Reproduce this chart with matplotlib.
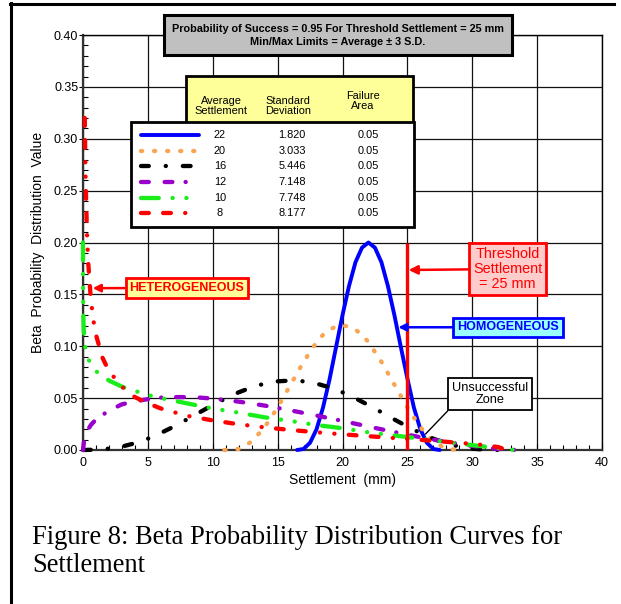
import matplotlib
matplotlib.use("Agg")
import matplotlib.pyplot as plt
from matplotlib.lines import Line2D
from matplotlib.patches import Rectangle
from matplotlib.ticker import MultipleLocator, FormatStrFormatter

plt.rcParams['font.family'] = ['Liberation Sans', 'DejaVu Sans']
plt.rcParams['lines.scale_dashes'] = False

W, H = 621, 604

# ---------------- data ----------------
avg_settlement = [22, 20, 16, 12, 10, 8]
std_dev = [1.820, 3.033, 5.446, 7.148, 7.748, 8.177]
failure_area = [0.05, 0.05, 0.05, 0.05, 0.05, 0.05]
threshold = 25
threshold_line_top = 0.20

x22 = [16.5, 17, 17.5, 18, 18.5, 19, 19.5, 20, 20.5, 21, 21.5, 22,
       22.5, 23, 23.5, 24, 24.5, 25, 25.5, 26, 26.5, 27, 27.5]
y22 = [0.000, 0.001, 0.007, 0.020, 0.041, 0.068, 0.099, 0.130, 0.158, 0.181, 0.195, 0.200,
       0.195, 0.181, 0.158, 0.130, 0.099, 0.069, 0.041, 0.020, 0.007, 0.001, 0.000]

x20 = [10.9, 12, 13, 14, 15, 16, 17, 18, 18.5, 19, 19.5, 20,
       20.5, 21, 21.5, 22, 23, 24, 25, 26, 27, 28, 29.1]
y20 = [0.000, 0.001, 0.008, 0.022, 0.041, 0.063, 0.085, 0.104, 0.111, 0.116, 0.119, 0.120,
       0.119, 0.116, 0.111, 0.104, 0.085, 0.063, 0.041, 0.022, 0.008, 0.001, 0.000]

x16 = [0, 1, 2, 3, 4, 5, 6, 7, 8, 9, 10, 11, 12, 13, 14, 15, 16,
       17, 18, 19, 20, 21, 22, 23, 24, 25, 26, 27, 28, 29, 30, 31, 32.3]
y16 = [0.000, 0.0003, 0.0013, 0.0033, 0.0065, 0.0109, 0.0164, 0.0226, 0.0294, 0.0364,
       0.0433, 0.0498, 0.0556, 0.0604, 0.0640, 0.0662, 0.0669, 0.0662, 0.0640, 0.0604,
       0.0556, 0.0498, 0.0433, 0.0364, 0.0294, 0.0226, 0.0164, 0.0109, 0.0065, 0.0033,
       0.0013, 0.0003, 0.000]

x12 = [0, 0.1, 0.3, 0.6, 1, 2, 3, 4, 5, 6, 7, 8, 9, 10, 11, 12, 13, 14,
       16, 18, 20, 22, 24, 26, 28, 30, 32, 33.4]
y12 = [0.000, 0.011, 0.018, 0.024, 0.0295, 0.038, 0.044, 0.047, 0.049, 0.0505, 0.051,
       0.051, 0.0505, 0.0495, 0.0482, 0.0466, 0.0448, 0.0428, 0.0382, 0.0332, 0.028,
       0.0226, 0.0173, 0.0123, 0.0077, 0.0039, 0.001, 0.000]

x10 = [0.001, 0.005, 0.02, 0.05, 0.1, 0.2, 0.3, 0.5, 1, 2, 3, 4, 5, 6, 8, 10,
       12, 14, 16, 18, 20, 22, 24, 26, 28, 30, 32, 33.2]
y10 = [0.200, 0.161, 0.133, 0.118, 0.107, 0.097, 0.093, 0.085, 0.076, 0.067, 0.061,
       0.057, 0.053, 0.050, 0.045, 0.040, 0.036, 0.0315, 0.028, 0.024, 0.021, 0.017,
       0.014, 0.011, 0.0077, 0.0047, 0.0018, 0.000]

x8 = [0.135, 0.2, 0.3, 0.4, 0.6, 0.8, 1, 1.5, 2, 3, 4, 5, 6, 8, 10, 12, 14, 16,
      18, 20, 22, 24, 26, 28, 30, 31, 32, 32.5]
y8 = [0.320, 0.262, 0.211, 0.181, 0.146, 0.125, 0.111, 0.089, 0.076, 0.061, 0.051,
      0.045, 0.040, 0.033, 0.0285, 0.0248, 0.0218, 0.0193, 0.0171, 0.0151, 0.0133,
      0.0115, 0.0098, 0.0079, 0.0059, 0.0046, 0.0028, 0.0007]

curves_x = [x22, x20, x16, x12, x10, x8]
curves_y = [y22, y20, y16, y12, y10, y8]

# ---------------- styles ----------------
colors = ['#0000FF', '#F9A552', '#000000', '#9900CC', '#1AEE1A', '#FF0000']
dashes = [None,
          (0, (0.8, 8.6)),
          (0, (5.6, 12.2, 0.1, 12.2)),
          (0, (5.6, 11.4, 5.6, 9.5, 0.1, 10.7)),
          (0, (12.8, 9.9, 0.1, 9.9, 0.1, 9.9, 0.1, 9.9)),
          (0, (5.6, 10.3, 5.6, 10.3, 0.1, 10.3, 0.1, 10.3))]
widths = [2.8, 3.1, 3.1, 3.1, 3.1, 3.1]


def style(i):
    kw = dict(color=colors[i], lw=widths[i], solid_capstyle='round',
              dash_capstyle='round')
    kw['linestyle'] = '-' if dashes[i] is None else dashes[i]
    return kw


fig = plt.figure(figsize=(W / 100, H / 100), dpi=100)
fig.patch.set_facecolor('white')

ax = fig.add_axes([83 / W, 1 - 450 / H, (602 - 83) / W, (450 - 35) / H])
ax.set_xlim(0, 40)
ax.set_ylim(0, 0.40)
ax.xaxis.set_major_locator(MultipleLocator(5))
ax.xaxis.set_minor_locator(MultipleLocator(1))
ax.yaxis.set_major_locator(MultipleLocator(0.05))
ax.yaxis.set_minor_locator(MultipleLocator(0.01))
ax.yaxis.set_major_formatter(FormatStrFormatter('%.2f'))
ax.grid(True, which='major', color='#111111', lw=0.9)
ax.set_axisbelow(True)
ax.tick_params(axis='x', which='major', direction='in', length=4, labelsize=9, pad=5)
ax.tick_params(axis='y', which='major', direction='out', length=3, labelsize=9, pad=0.5)
ax.tick_params(which='minor', direction='in', length=3.5, width=0.8)
for side in ['left', 'bottom']:
    ax.spines[side].set_linewidth(1.6)
    ax.spines[side].set_color('#333333')
for side in ['top', 'right']:
    ax.spines[side].set_linewidth(1.0)
ax.set_xlabel('Settlement  (mm)', fontsize=10, labelpad=3)
ax.set_ylabel('Beta  Probability  Distribution  Value', fontsize=10, labelpad=6)

for i in range(len(curves_x)):
    ax.plot(curves_x[i], curves_y[i], clip_on=False, zorder=3, **style(i))

# threshold settlement line
ax.plot([threshold, threshold], [0, threshold_line_top], color='#FF0000', lw=2.4,
        zorder=4, solid_capstyle='butt')

# ---------------- overlay in pixel coordinates ----------------
ov = fig.add_axes([0, 0, 1, 1])
ov.set_xlim(0, W)
ov.set_ylim(H, 0)
ov.axis('off')
ov.patch.set_alpha(0)
ov.set_zorder(5)

# outer frame
ov.add_line(Line2D([11, 11], [3, H], color='black', lw=2.2))
ov.add_line(Line2D([10, 614], [3.5, 3.5], color='black', lw=2.2))

# heading box
ov.add_patch(Rectangle((164, 15), 348, 40, fc='#C0C0C0', ec='black', lw=2.2))
ov.text(338, 29.5, 'Probability of Success = 0.95 For Threshold Settlement = 25 mm',
        ha='center', va='center', fontsize=7.85, fontweight='bold')
ov.text(338, 42, 'Min/Max Limits = Average \u00b1 3 S.D.',
        ha='center', va='center', fontsize=7.85, fontweight='bold')

# legend table
ov.add_patch(Rectangle((186, 76), 227, 47, fc='#FFFF99', ec='black', lw=2.0))
ov.add_patch(Rectangle((131, 122), 283, 105, fc='white', ec='black', lw=2.0))
ov.text(221, 106, 'Average\nSettlement', ha='center', va='center', fontsize=7.9,
        linespacing=1.0)
ov.text(288, 106, 'Standard\nDeviation', ha='center', va='center', fontsize=7.9,
        linespacing=1.0)
ov.text(363, 101, 'Failure\nArea', ha='center', va='center', fontsize=7.9,
        linespacing=1.0)
for i in range(len(avg_settlement)):
    yy = 135 + 15.65 * i
    ov.add_line(Line2D([141, 199], [yy, yy], **style(i)))
    ov.text(220, yy, f'{avg_settlement[i]}', ha='center', va='center', fontsize=7.9)
    ov.text(292, yy, f'{std_dev[i]:.3f}', ha='center', va='center', fontsize=7.9)
    ov.text(368, yy, f'{failure_area[i]:.2f}', ha='center', va='center', fontsize=7.9)

# annotations
ax.annotate('HETEROGENEOUS', xy=(0.75, 0.156), xycoords='data',
            xytext=(187, 288), textcoords=ov.transData,
            ha='center', va='center', fontsize=9, fontweight='bold', color='#FF0000',
            bbox=dict(boxstyle='square,pad=0.3', fc='#FFFF99', ec='#FF0000', lw=2.0),
            arrowprops=dict(arrowstyle='-|>,head_length=0.5,head_width=0.25',
                            color='#FF0000', lw=1.8, shrinkA=0, shrinkB=0),
            annotation_clip=False, zorder=8)
ax.annotate('Threshold\nSettlement\n= 25 mm', xy=(25.1, 0.1735), xycoords='data',
            xytext=(507.5, 269), textcoords=ov.transData,
            ha='center', va='center', fontsize=10.4, color='#FF0000', linespacing=1.05,
            bbox=dict(boxstyle='square,pad=0.28', fc='#FFCCCC', ec='#FF0000', lw=2.0),
            arrowprops=dict(arrowstyle='-|>,head_length=0.5,head_width=0.25',
                            color='#FF0000', lw=1.8, shrinkA=0, shrinkB=0),
            annotation_clip=False, zorder=8)
ax.annotate('HOMOGENEOUS', xy=(24.3, 0.1183), xycoords='data',
            xytext=(508, 327.3), textcoords=ov.transData,
            ha='center', va='center', fontsize=9, fontweight='bold', color='#0000FF',
            bbox=dict(boxstyle='square,pad=0.3', fc='#99FFFF', ec='#0000FF', lw=2.0),
            arrowprops=dict(arrowstyle='-|>,head_length=0.5,head_width=0.25',
                            color='#0000FF', lw=1.8, shrinkA=0, shrinkB=0),
            annotation_clip=False, zorder=8)
ax.annotate('Unsuccessful\nZone', xy=(26.4, 0.0154), xycoords='data',
            xytext=(490, 394), textcoords=ov.transData,
            ha='center', va='center', fontsize=9.2, color='black', linespacing=1.1,
            bbox=dict(boxstyle='square,pad=0.3', fc='white', ec='black', lw=1.3),
            arrowprops=dict(arrowstyle='-', color='black', lw=1.0, relpos=(0, 0),
                            shrinkA=0, shrinkB=0),
            annotation_clip=False, zorder=8)

# caption
serif = ['Liberation Serif', 'DejaVu Serif']
ov.text(32, 537, 'Figure 8: Beta Probability Distribution Curves for',
        ha='left', va='center', fontsize=19.1, family=serif)
ov.text(32, 566, 'Settlement', ha='left', va='center', fontsize=19.1, family=serif)

fig.savefig('out.png', dpi=100)
